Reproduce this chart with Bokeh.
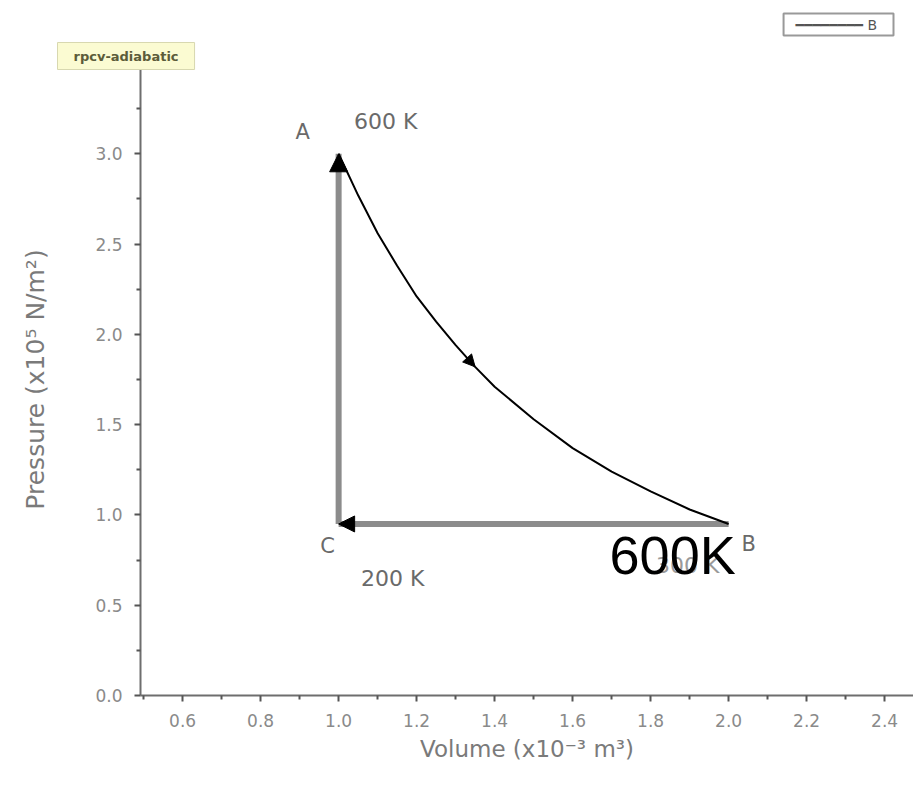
from bokeh.plotting import figure
from bokeh.models import (Range1d, FixedTicker, Arrow, NormalHead, Label, Title)
from bokeh.embed import file_html
from bokeh.resources import INLINE

# ---- data ----
state_names = ["A", "B", "C"]
state_volume = [1.0, 2.0, 1.0]
state_pressure = [3.0, 0.95, 0.95]
state_temps = ["600 K", "300 K", "200 K"]
overlay_text = "600K"
tooltip_text = "rpcv-adiabatic"
legend_label = "B"

curve_volume = [1.0, 1.05, 1.1, 1.15, 1.2, 1.25, 1.3, 1.35, 1.4, 1.5, 1.6, 1.7, 1.8, 1.9, 2.0]
curve_pressure = [3.0, 2.77, 2.56, 2.38, 2.21, 2.07, 1.94, 1.82, 1.71, 1.53, 1.37, 1.24, 1.13, 1.03, 0.95]

x_ticks = [0.6, 0.8, 1.0, 1.2, 1.4, 1.6, 1.8, 2.0, 2.2, 2.4]
x_minor = [0.5, 0.7, 0.9, 1.1, 1.3, 1.5, 1.7, 1.9, 2.1, 2.3, 2.5]
y_ticks = [0.0, 0.5, 1.0, 1.5, 2.0, 2.5, 3.0]
y_minor = [0.25, 0.75, 1.25, 1.75, 2.25, 2.75, 3.25]

FONT = "DejaVu Sans"

p = figure(width=913, height=789, output_backend="svg", toolbar_location=None,
           x_range=Range1d(0.492, 2.474), y_range=Range1d(0.0, 3.5),
           min_border_left=140, min_border_right=0, min_border_top=62, min_border_bottom=94)
p.outline_line_color = None
p.xgrid.visible = False
p.ygrid.visible = False

for ax in (p.xaxis[0], p.yaxis[0]):
    ax.axis_line_color = "#6e6e6e"
    ax.axis_line_width = 2
    ax.major_tick_line_color = "#555555"
    ax.major_tick_line_width = 2
    ax.minor_tick_line_color = "#555555"
    ax.minor_tick_line_width = 2
    ax.major_tick_out = 6
    ax.major_tick_in = 0
    ax.minor_tick_out = 4
    ax.minor_tick_in = 0
    ax.major_label_text_font = FONT
    ax.major_label_text_font_size = "17px"
    ax.major_label_text_color = "#8a8a8a"
    ax.axis_label_text_font = FONT
    ax.axis_label_text_font_style = "normal"
    ax.axis_label_text_color = "#7a7a7a"

p.xaxis.axis_label_text_font_size = "23px"
p.yaxis.axis_label_text_font_size = "25px"
p.xaxis.ticker = FixedTicker(ticks=x_ticks, minor_ticks=x_minor)
p.yaxis.ticker = FixedTicker(ticks=y_ticks, minor_ticks=y_minor)
p.xaxis.major_label_overrides = {t: f"{t:.1f}" for t in x_ticks}
p.yaxis.major_label_overrides = {t: f"{t:.1f}" for t in y_ticks}
p.xaxis.axis_label = "Volume (x10\u207b\u00b3 m\u00b3)"
p.yaxis.axis_label = "Pressure (x10\u2075 N/m\u00b2)"
p.xaxis.major_label_standoff = 12
p.yaxis.major_label_standoff = 12
p.xaxis.axis_label_standoff = 6
p.yaxis.axis_label_standoff = 42

iA, iB, iC = 0, 1, 2
# isochoric C -> A
p.line([state_volume[iC], state_volume[iA]], [state_pressure[iC], state_pressure[iA]],
       line_color="#8c8c8c", line_width=6)
# isobaric B -> C
p.line([state_volume[iB], state_volume[iC]], [state_pressure[iB], state_pressure[iC]],
       line_color="#8c8c8c", line_width=6)
# adiabatic A -> B
curve = p.line(curve_volume, curve_pressure, line_color="black", line_width=2)

# arrows
p.add_layout(Arrow(end=NormalHead(size=18, fill_color="black", line_color="black"),
                   x_start=state_volume[iC], y_start=state_pressure[iA] - 0.2,
                   x_end=state_volume[iA], y_end=state_pressure[iA], line_alpha=0))
p.add_layout(Arrow(end=NormalHead(size=16, fill_color="black", line_color="black"),
                   x_start=state_volume[iC] + 0.1, y_start=state_pressure[iC],
                   x_end=state_volume[iC], y_end=state_pressure[iC], line_alpha=0))
p.add_layout(Arrow(end=NormalHead(size=12, fill_color="black", line_color="black"),
                   x_start=curve_volume[6], y_start=curve_pressure[6],
                   x_end=curve_volume[7], y_end=curve_pressure[7], line_alpha=0))

# state labels
name_off = {"A": (-36, 22), "B": (20, -20), "C": (-11, -22)}
temp_off = {"A": (47, 32), "B": (-41, -42), "C": (54, -55)}
for i, nm in enumerate(state_names):
    dx, dy = name_off[nm]
    p.add_layout(Label(x=state_volume[i], y=state_pressure[i], x_offset=dx, y_offset=dy,
                       text=nm, text_font=FONT, text_font_size="21px", text_color="#6a6a6a",
                       text_align="center", text_baseline="middle"))
    tx, ty = temp_off[nm]
    p.add_layout(Label(x=state_volume[i], y=state_pressure[i], x_offset=tx, y_offset=ty,
                       text=state_temps[i], text_font=FONT, text_font_size="22px",
                       text_color="#6a6a6a" if nm != "B" else "#9a9a9a",
                       text_align="center", text_baseline="middle"))

# big overlay text near B
p.add_layout(Label(x=state_volume[iB], y=state_pressure[iB], x_offset=-56, y_offset=-31,
                   text=overlay_text, text_font="Liberation Sans", text_font_size="54px",
                   text_color="black", text_align="center", text_baseline="middle"))

# tooltip-like note over the top of the y axis (panel nearest the frame)
tip = Title(text=tooltip_text, align="left", offset=-83, text_font=FONT,
            text_font_size="13px", text_font_style="bold", text_color="#5c5c3a",
            background_fill_color="#fbfbd2", border_line_color="#d8d8b0",
            padding=(16, 6), standoff=-12, vertical_align="bottom")
p.add_layout(tip, "above")

# legend box (outer panel): line sample + series name
legend_box = Title(text="\u2501" * 8 + "  " + legend_label, align="right", offset=20,
                   text_font=FONT, text_font_size="14px", text_font_style="normal",
                   text_color="#555555", background_fill_color="white",
                   border_line_color="#999999", border_line_width=2,
                   padding=(12, 3), standoff=22, vertical_align="bottom")
p.add_layout(legend_box, "above")

open("out.html", "w").write(file_html(p, INLINE))
